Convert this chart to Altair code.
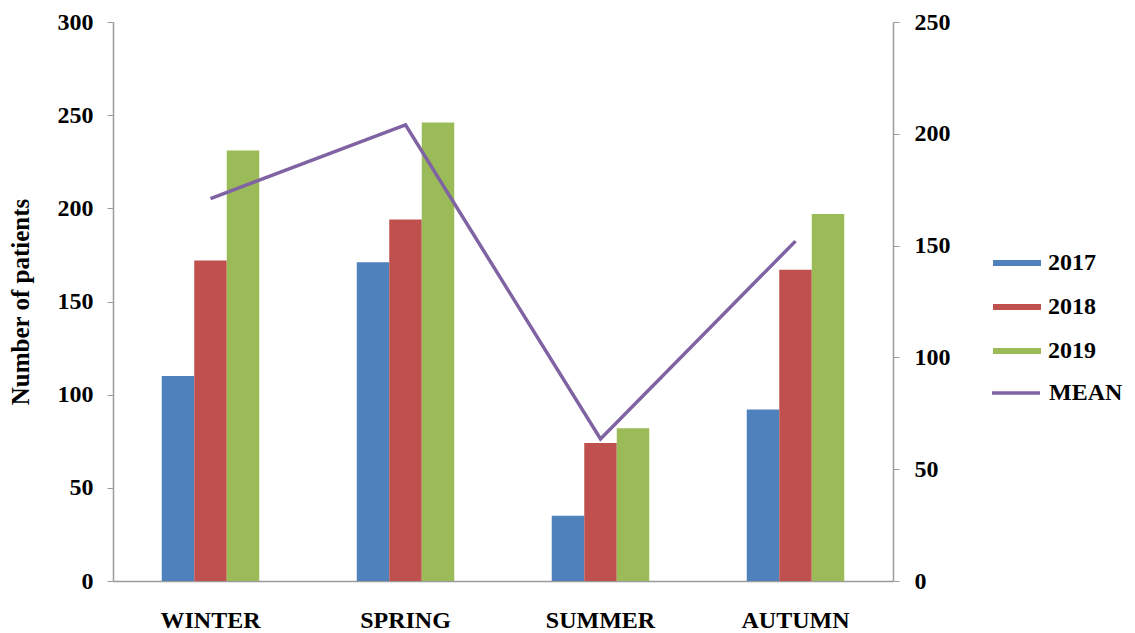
import altair as alt
import pandas as pd

seasons = ["WINTER", "SPRING", "SUMMER", "AUTUMN"]
years = ["2017", "2018", "2019"]
v2017 = [110, 171, 35, 92]
v2018 = [172, 194, 74, 167]
v2019 = [231, 246, 82, 197]
mean_vals = [171, 204, 63.5, 152]
bar_colors = ["#4F81BD", "#C0504D", "#9BBB59"]
line_color = "#7F63A2"

bars_df = pd.DataFrame({
    "season": seasons * 3,
    "year": [y for y in years for _ in seasons],
    "patients": v2017 + v2018 + v2019,
})
mean_df = pd.DataFrame({"season": seasons, "mean": mean_vals, "series": ["MEAN"] * 4})

FONT = "Liberation Serif"
GRAY = "#9a9a9a"
FS = 24

x_enc = alt.X(
    "season:N", sort=seasons,
    scale=alt.Scale(paddingInner=0.5, paddingOuter=0.25),
    axis=alt.Axis(title=None, ticks=False, labelAngle=0, labelPadding=27,
                  labelFontSize=FS, labelFont=FONT, labelFontWeight="bold",
                  labelColor="black", domainColor=GRAY, domainWidth=1.5),
)

bars = alt.Chart(bars_df).mark_bar().encode(
    x=x_enc,
    xOffset=alt.XOffset("year:N", sort=years, scale=alt.Scale(paddingInner=0, paddingOuter=0)),
    y=alt.Y("patients:Q", scale=alt.Scale(domain=[0, 300], nice=False),
            axis=alt.Axis(title="Number of patients", values=[0, 50, 100, 150, 200, 250, 300],
                          orient="left", tickSize=6, labelPadding=14,
                          titleFontSize=25, titleFont=FONT, titleFontWeight="bold",
                          titleColor="black", titlePadding=24)),
    color=alt.Color("year:N", scale=alt.Scale(domain=years, range=bar_colors),
                    legend=alt.Legend(title=None, orient="none", legendX=892, legendY=229,
                                      symbolType="M-2,-0.25H2V0.25H-2Z", symbolSize=576,
                                      symbolStrokeWidth=0, labelOffset=19, rowPadding=20,
                                      padding=0, labelFontSize=FS, labelFont=FONT,
                                      labelFontWeight="bold", labelColor="black",
                                      symbolOpacity=1)),
)

line = alt.Chart(mean_df).mark_line(strokeWidth=3.5).encode(
    x=alt.X("season:N", sort=seasons),
    y=alt.Y("mean:Q", scale=alt.Scale(domain=[0, 250], nice=False),
            axis=alt.Axis(title=None, values=[0, 50, 100, 150, 200, 250], orient="right",
                          tickSize=6, labelPadding=15)),
    stroke=alt.Stroke("series:N", scale=alt.Scale(domain=["MEAN"], range=[line_color]),
                      legend=alt.Legend(title=None, orient="none", legendX=889, legendY=357,
                                        symbolType="M-2,0H2", symbolSize=576,
                                        symbolStrokeWidth=3.5, labelOffset=19,
                                        padding=0, labelFontSize=FS, labelFont=FONT,
                                        labelFontWeight="bold", labelColor="black")),
)

chart = alt.layer(bars, line).resolve_scale(y="independent").properties(
    width=780, height=559,
    autosize=alt.AutoSizeParams(type="none"),
    padding={"left": 105, "top": 14, "right": 234, "bottom": 52},
).configure_view(stroke=None).configure_axis(
    grid=False, domainColor=GRAY, tickColor=GRAY, domainWidth=1.5,
    labelFont=FONT, labelFontSize=FS, labelFontWeight="bold", labelColor="black",
)

chart.save("out.html", embed_options={"renderer": "svg", "actions": False})
